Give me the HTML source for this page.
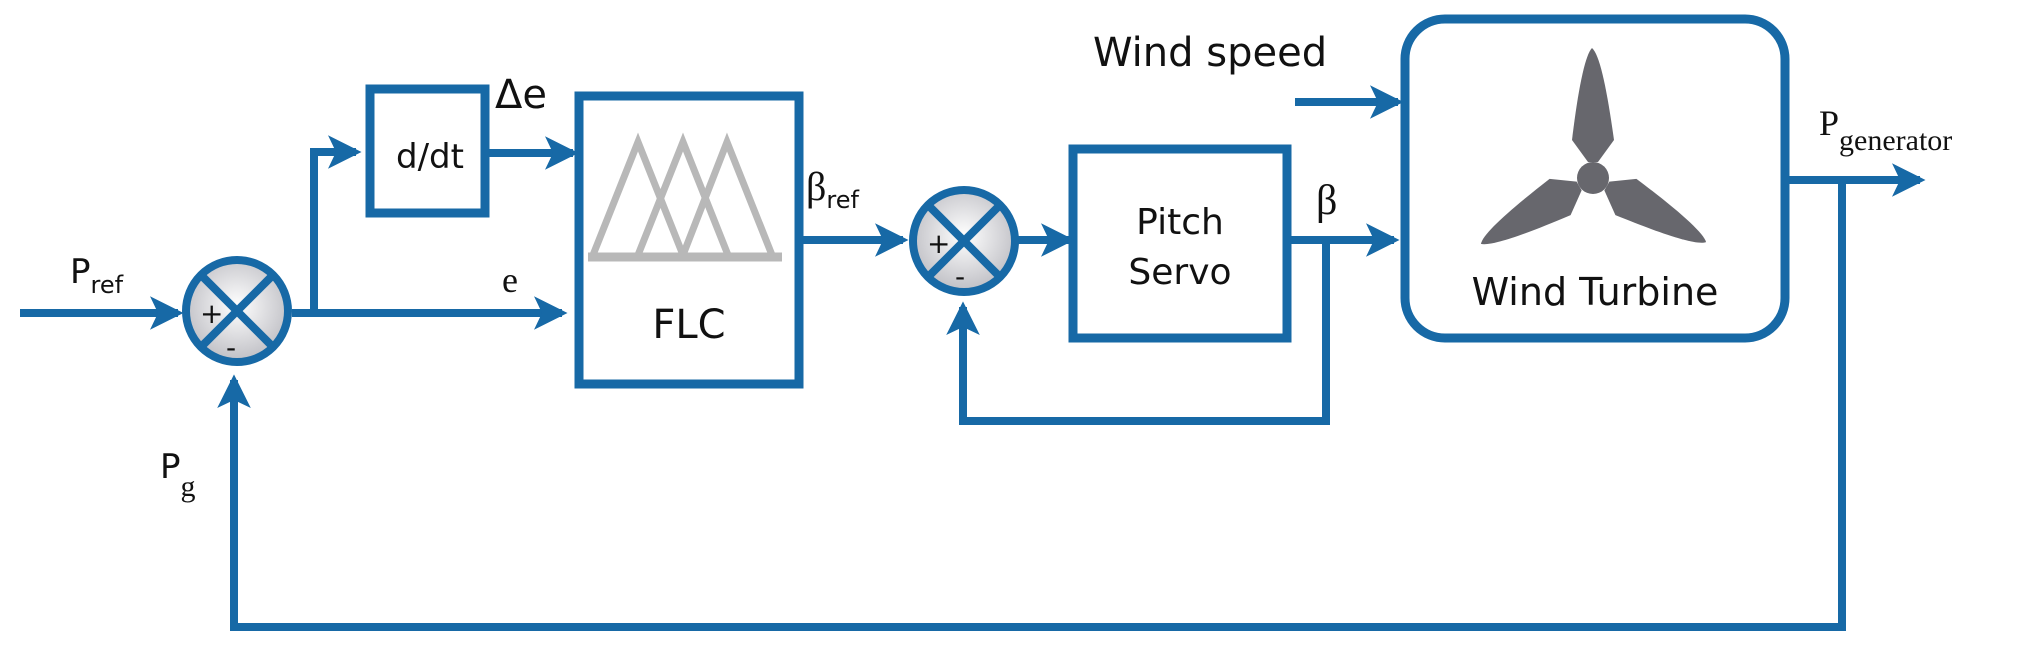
<!DOCTYPE html>
<html><head><meta charset="utf-8"><style>
html,body{margin:0;padding:0;background:#fff;}
svg{display:block;}
text{font-family:"DejaVu Sans","Liberation Sans",sans-serif;fill:#111;}
.s{font-family:"Liberation Serif",serif;}
</style></head><body>
<svg width="2041" height="652" viewBox="0 0 2041 652" xmlns="http://www.w3.org/2000/svg">
<defs>
<radialGradient id="g" cx="50%" cy="45%" r="60%">
<stop offset="0" stop-color="#ffffff"/><stop offset="1" stop-color="#b9b9bf"/>
</radialGradient>
<marker id="a" markerWidth="4.2" markerHeight="4.2" refX="3.5" refY="2.1" orient="auto" markerUnits="strokeWidth">
<path d="M0,0 L4.2,2.1 L0,4.2 L1,2.1 Z" fill="#1769a6"/>
</marker>
</defs>
<g stroke="#1769a6" stroke-width="8" fill="none" stroke-linejoin="miter">
<line x1="20" y1="313" x2="178" y2="313" marker-end="url(#a)"/>
<line x1="292" y1="313" x2="562" y2="313" marker-end="url(#a)"/>
<polyline points="314,313 314,152 356,152" marker-end="url(#a)"/>
<line x1="489" y1="153" x2="573" y2="153" marker-end="url(#a)"/>
<rect x="370" y="89" width="115" height="124" stroke-width="9"/>
<rect x="579" y="96" width="220" height="288" stroke-width="9"/>
<rect x="1073" y="149" width="214" height="189" stroke-width="9"/>
<rect x="1405" y="19" width="380" height="319" rx="40" stroke-width="9"/>
<line x1="803" y1="240" x2="903" y2="240" marker-end="url(#a)"/>
<line x1="1018" y1="240" x2="1069" y2="240" marker-end="url(#a)"/>
<line x1="1291" y1="240" x2="1394" y2="240" marker-end="url(#a)"/>
<polyline points="1326,240 1326,421 963,421 963,307" marker-end="url(#a)"/>
<line x1="1295" y1="102" x2="1398" y2="102" marker-end="url(#a)"/>
<line x1="1789" y1="180" x2="1920" y2="180" marker-end="url(#a)"/>
<polyline points="1842,180 1842,627 234,627 234,380" marker-end="url(#a)"/>
</g>
<g stroke="#1769a6" stroke-width="8">
<circle cx="237" cy="311" r="51" fill="url(#g)"/>
<line x1="201" y1="275" x2="273" y2="347"/><line x1="273" y1="275" x2="201" y2="347"/>
<circle cx="964" cy="241" r="51" fill="url(#g)"/>
<line x1="928" y1="205" x2="1000" y2="277"/><line x1="1000" y1="205" x2="928" y2="277"/>
</g>
<text x="200" y="323" font-size="28">+</text>
<text x="226" y="357" font-size="28">-</text>
<text x="927" y="253" font-size="28">+</text>
<text x="955" y="286" font-size="28">-</text>
<g stroke="#b8b8b8" stroke-width="7" fill="none" stroke-linejoin="miter">
<polyline points="593,255 638,142 683,255"/>
<polyline points="638,255 683,142 728,255"/>
<polyline points="683,255 727,142 772,255"/>
<line x1="588" y1="257" x2="782" y2="257" stroke-width="9"/>
</g>
<g fill="#67676d">
<circle cx="1593" cy="178" r="16"/>
<g id="b"><path d="M1592,48 C1600,55 1607,90 1614,140 L1598,162 L1588,162 L1572,140 C1578,90 1585,55 1592,48 Z"/></g>
<use href="#b" transform="rotate(120 1593 178)"/>
<use href="#b" transform="rotate(240 1593 178)"/>
</g>
<text x="396" y="168" font-size="34">d/dt</text>
<text x="495" y="108" font-size="40">Δe</text>
<text x="502" y="292" font-size="36" class="s">e</text>
<text x="689" y="338" font-size="40" text-anchor="middle">FLC</text>
<text x="70" y="283" font-size="34">P<tspan font-size="24" dy="10">ref</tspan></text>
<text x="806" y="200" font-size="40" class="s">β<tspan font-size="24" dy="8" font-family="DejaVu Sans">ref</tspan></text>
<text x="1180" y="234" font-size="36" text-anchor="middle">Pitch</text>
<text x="1180" y="284" font-size="36" text-anchor="middle">Servo</text>
<text x="1316" y="214" font-size="42" class="s">β</text>
<text x="1093" y="66" font-size="40">Wind speed</text>
<text x="1595" y="305" font-size="38" text-anchor="middle">Wind Turbine</text>
<text x="1819" y="135" font-size="36" class="s">P<tspan font-size="30" dy="15">generator</tspan></text>
<text x="160" y="478" font-size="34">P<tspan font-size="30" dy="18" class="s">g</tspan></text>
</svg>
</body></html>
